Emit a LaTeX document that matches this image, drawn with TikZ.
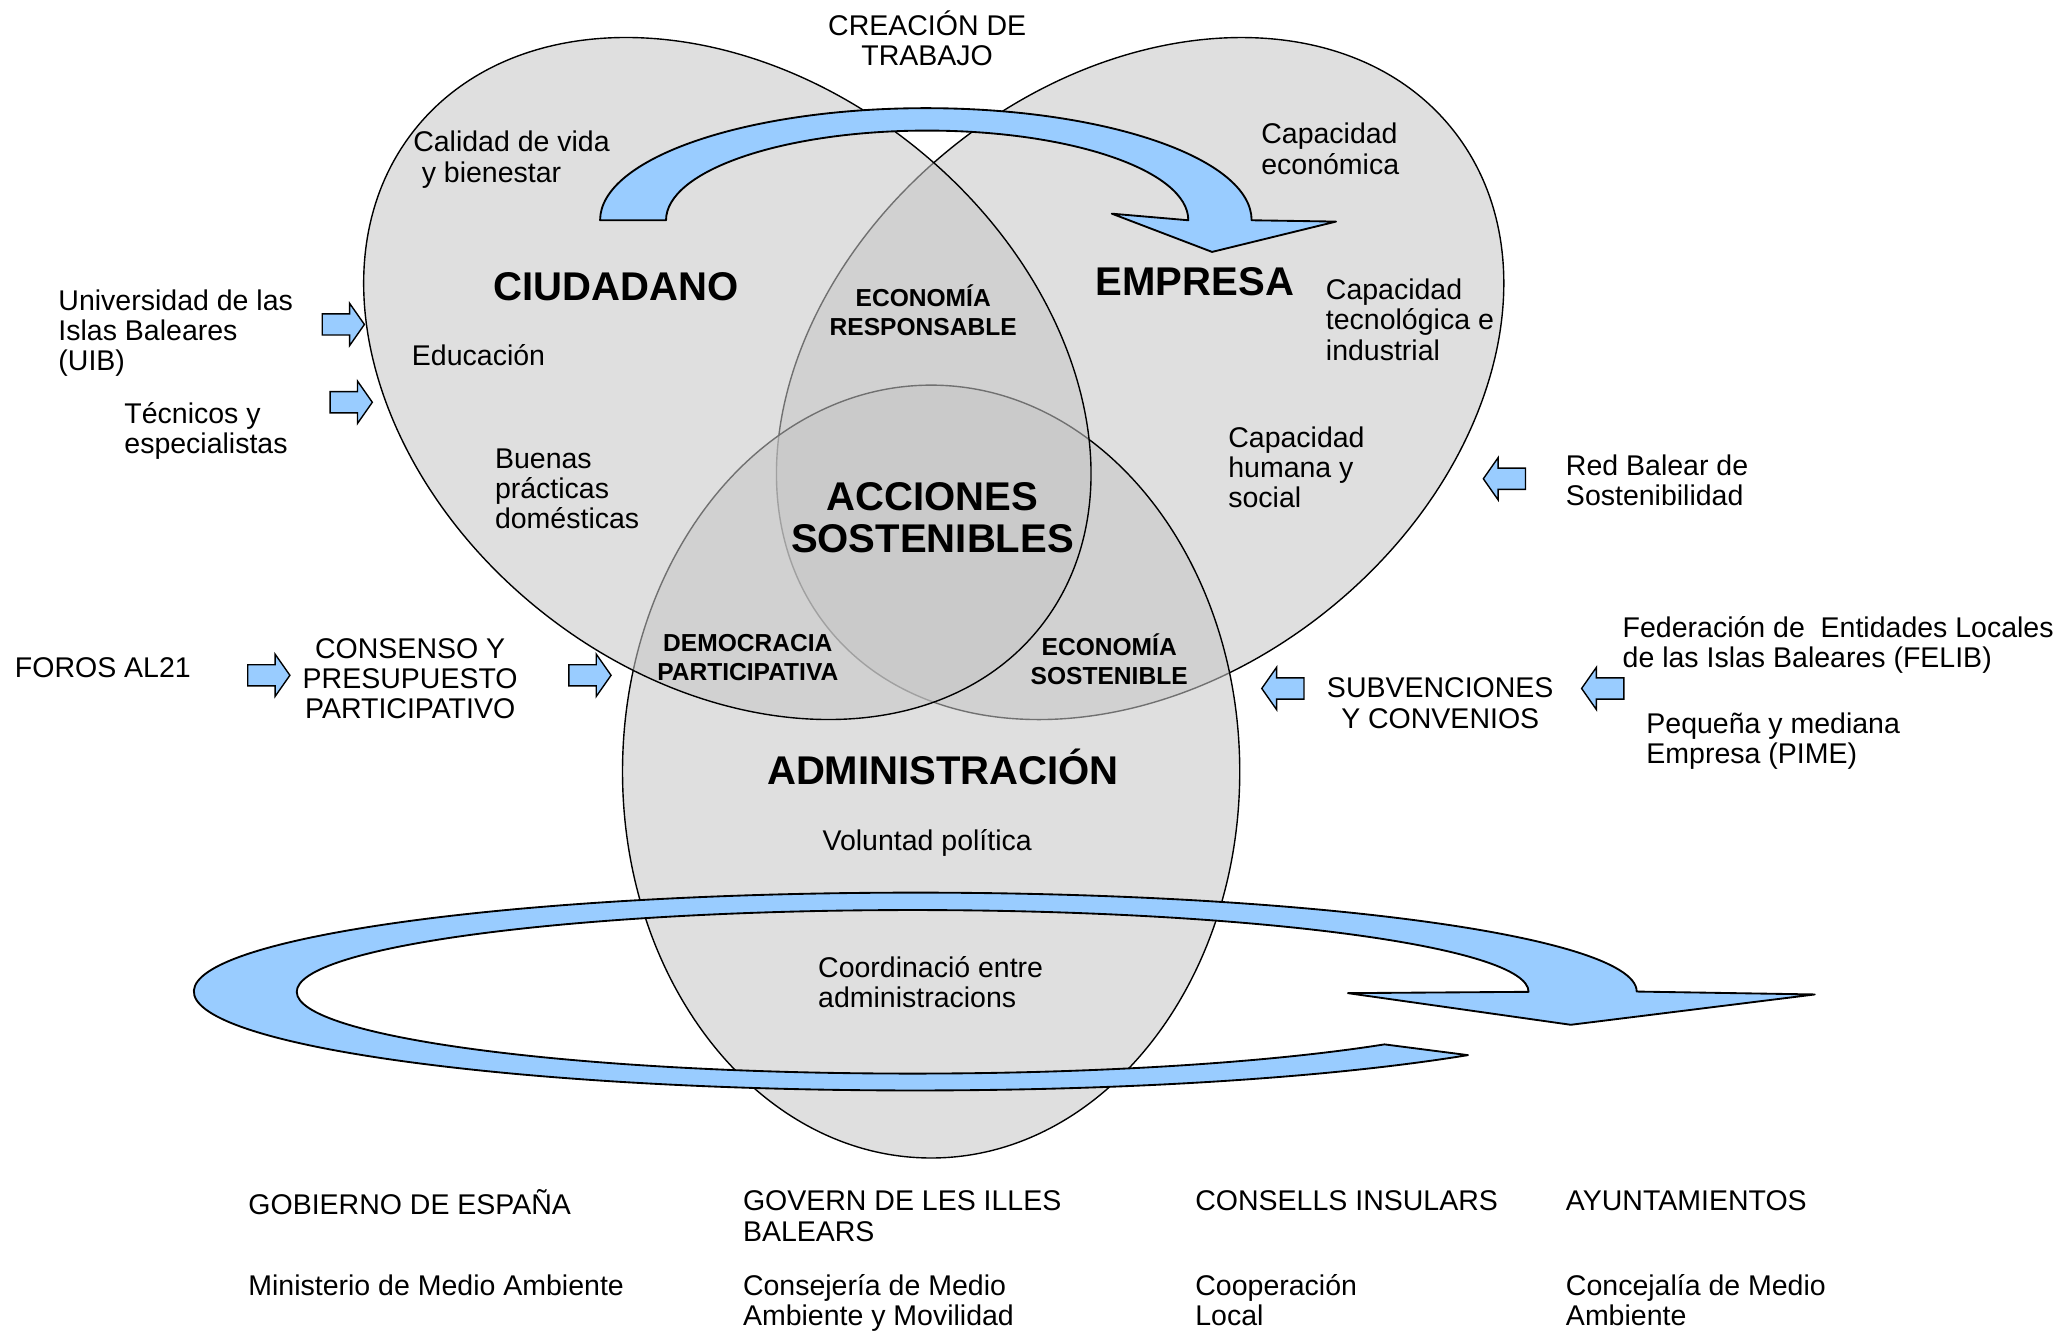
\documentclass[tikz,border=0pt]{standalone}
\usepackage{fontspec}
\setmainfont{Liberation Sans}
\usetikzlibrary{shapes.arrows}
\definecolor{vgray}{HTML}{C6C6C6}
\definecolor{arrblue}{HTML}{99CCFF}
\newcommand{\txtfont}{\fontsize{12.3}{13}\selectfont}
\newcommand{\bigfont}{\fontsize{17.3}{18.2}\selectfont\bfseries}
\newcommand{\smallbold}{\fontsize{10.6}{12.5}\selectfont\bfseries}
\tikzset{
	venn/.style = {fill=vgray, fill opacity=0.57, draw=black, line width=0.6pt},
	bluearrow/.style = {fill=arrblue, draw=black, line width=0.8pt, line join=round},
	txt/.style = {font=\txtfont, inner sep=0pt, align=left, anchor=base west},
	ctxt/.style = {font=\txtfont, inner sep=0pt, align=center, anchor=base},
	title/.style = {font=\bigfont, inner sep=0pt, align=center, anchor=base},
	zone/.style = {font=\smallbold, inner sep=0pt, align=center, anchor=base},
	flecha/.style = {
			shape=single arrow, draw=black, fill=arrblue, line width=0.6pt,
			minimum height=0.64cm, inner xsep=0pt, inner ysep=0.15cm,
			single arrow head extend=0.16cm, single arrow tip angle=110
		},
	flechaizq/.style = {flecha, shape border rotate=180},
}

\begin{document}
\begin{tikzpicture}[x=0.02cm, y=-0.02cm]
    \useasboundingbox (0,0) rectangle (1568,1009);

    % the three circles
    \coordinate (ciu) at (551.5,287);
    \coordinate (emp) at (864.5,287);
    \coordinate (adm) at (706,585);
    \draw[venn, rotate around={38.5:(emp)}] (emp) ellipse [x radius=303, y radius=226];
    \draw[venn] (adm) ellipse [x radius=234, y radius=293];
    \draw[venn, rotate around={-38.5:(ciu)}] (ciu) ellipse [x radius=303, y radius=226];

    % curved arrows
    \draw[bluearrow] (455,167) arc[start angle=180, end angle=360, x radius=247, y radius=85]
      -- (1013,168) -- (919,191) -- (843,162) -- (901,167)
      arc[start angle=0, end angle=-180, x radius=198, y radius=68] -- cycle;
    \draw[bluearrow] (1113,800) arc[start angle=40, end angle=360, x radius=547, y radius=75]
      -- (1376,754) -- (1191,777) -- (1022,753) -- (1159,752)
      arc[start angle=360, end angle=40, x radius=467, y radius=62] -- cycle;

    % titles (base = last line)
    \node[title] at (467,228) (ciudadano) {CIUDADANO};
    \node[title] at (906,224) (empresa) {EMPRESA};
    \node[title] at (715,595) (admin) {ADMINISTRACIÓN};
    \node[title] at (707,419) (acciones) {ACCIONES\\SOSTENIBLES};
    \node[zone] at (700,254) (ecoresp) {ECONOMÍA\\RESPONSABLE};
    \node[zone] at (567,516) (democ) {DEMOCRACIA\\PARTICIPATIVA};
    \node[zone] at (841,519) (ecosost) {ECONOMÍA\\SOSTENIBLE};

    % texts inside
    \node[ctxt] at (703,50) (creacion) {CREACIÓN DE\\TRABAJO};
    \node[txt] at (313,138) (calidad) {Calidad de vida\\\hspace{0.3em}y bienestar};
    \node[txt] at (956,132) (capeco) {Capacidad\\económica};
    \node[txt] at (1005,273) (captec) {Capacidad\\tecnológica e\\industrial};
    \node[txt] at (312,277) (educ) {Educación};
    \node[txt] at (375,401) (buenas) {Buenas\\prácticas\\domésticas};
    \node[txt] at (931,385) (caphum) {Capacidad\\humana y\\social};
    \node[ctxt] at (703,645) (voluntad) {Voluntad política};
    \node[txt] at (620,764) (coord) {Coordinació entre\\administracions};

    % texts outside
    \node[txt] at (44,281) (uib) {Universidad de las\\Islas Baleares\\(UIB)};
    \node[txt] at (94,344) (tecnicos) {Técnicos y\\especialistas};
    \node[txt] at (11,514) (foros) {FOROS AL21};
    \node[ctxt] at (311,545) (consenso) {CONSENSO Y\\PRESUPUESTO\\PARTICIPATIVO};
    \node[txt] at (1187,383) (redbalear) {Red Balear de\\Sostenibilidad};
    \node[ctxt] at (1092,552) (subv) {SUBVENCIONES\\Y CONVENIOS};
    \node[txt] at (1230,506) (felib) {Federación de\ \ Entidades Locales\\de las Islas Baleares (FELIB)};
    \node[txt] at (1248,579) (pime) {Pequeña y mediana\\Empresa (PIME)};

    % small arrows
    \node[flecha] at (257.5,246) (aruib) {};
    \node[flecha] at (263.5,305) (artec) {};
    \node[flecha] at (201,512) (arforos) {};
    \node[flecha] at (444.5,512) (arcons) {};
    \node[flechaizq] at (1143.5,363) (arred) {};
    \node[flechaizq] at (975.5,522) (arsubv) {};
    \node[flechaizq] at (1218,522) (arfelib) {};

    % administrations
    \node[txt] at (188,921) (gobierno) {GOBIERNO DE ESPAÑA};
    \node[txt] at (563,941) (govern) {GOVERN DE LES ILLES\\BALEARS};
    \node[txt] at (906,918) (consells) {CONSELLS INSULARS};
    \node[txt] at (1187,918) (ayunt) {AYUNTAMIENTOS};
    \node[txt] at (188,982) (ministerio) {Ministerio de Medio Ambiente};
    \node[txt] at (563,1005) (conselleria) {Consejería de Medio\\Ambiente y Movilidad};
    \node[txt] at (906,1005) (cooper) {Cooperación\\Local};
    \node[txt] at (1187,1005) (concejalia) {Concejalía de Medio\\Ambiente};
\end{tikzpicture}
\end{document}
